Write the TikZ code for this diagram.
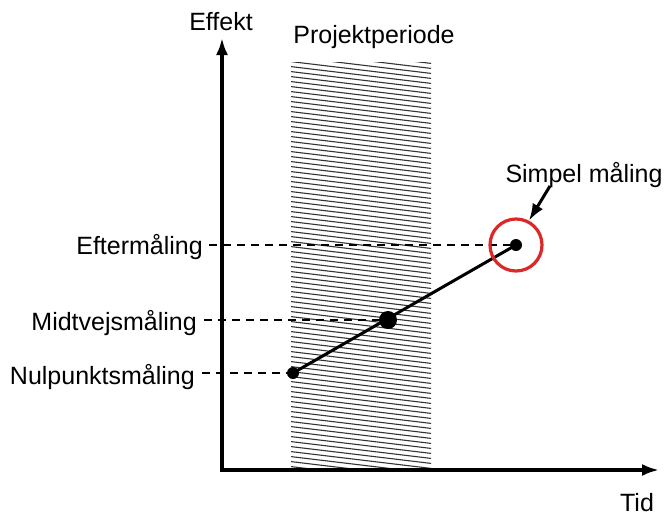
\documentclass[tikz,border=0pt]{standalone}
\usepackage{fontspec}
\setmainfont{Liberation Sans}
\usepackage{xcolor}
\usetikzlibrary{arrows.meta, positioning, calc}
\definecolor{markred}{RGB}{220,40,40}

\tikzset{
  lbl/.style={font=\fontsize{25}{30}\selectfont, inner sep=0pt},
  pt/.style={circle, fill=black, inner sep=0pt, minimum size=#1},
  guide/.style={line width=2.6pt, dash pattern=on 8pt off 6pt},
  axis/.style={line width=3.2pt, -{Latex[length=17pt,width=12pt]}}
}

\begin{document}
\begin{tikzpicture}[x=1pt, y=-1pt]
  \useasboundingbox (0,0) rectangle (665,517);

  % Project period (hatched band)
  \begin{scope}
    \clip (291,62) rectangle (431,470);
    \foreach \y in {36,41,...,472}
      \draw[line width=1.1pt, black!80] (286,\y) -- (436,\y+18);
  \end{scope}
  \node[lbl] (periode) at (374,37) {Projektperiode};

  % Axes
  \coordinate (origo) at (222,470);
  \coordinate (ytop) at (222,38);
  \coordinate (xend) at (659,470);
  \draw[axis] (origo) -- (ytop);
  \draw[axis] ([xshift=-1.6pt]origo) -- (xend);
  \node[lbl] (effekt) at (221,22) {Effekt};
  \node[lbl] (tid) at (637,503) {Tid};

  % Measurements
  \node[pt=12pt] (nul) at (293,373) {};
  \node[pt=18pt] (midt) at (388,320) {};
  \node[pt=12pt] (efter) at (516,245) {};
  \draw[line width=3pt] (nul.center) -- (efter.center);

  \node[lbl, anchor=east] (nullbl) at (195,377) {Nulpunktsmåling};
  \node[lbl, anchor=east] (midtlbl) at (197,323) {Midtvejsmåling};
  \node[lbl, anchor=east] (efterlbl) at (203,247) {Eftermåling};

  \draw[guide] ([xshift=7pt]nullbl.east |- nul) -- (nul);
  \draw[guide] ([xshift=7pt]midtlbl.east |- midt) -- (midt);
  \draw[guide] ([xshift=6pt]efterlbl.east |- efter) -- (efter);

  % Simple measurement
  \node[circle, draw=markred, line width=3.2pt, minimum size=52pt, inner sep=0pt] (ring) at (efter) {};
  \node[lbl] (simpel) at (584,175) {Simpel måling};
  \draw[line width=3pt, -{Latex[length=17pt,width=12pt]}] (550,186) -- (ring.62);
\end{tikzpicture}
\end{document}
